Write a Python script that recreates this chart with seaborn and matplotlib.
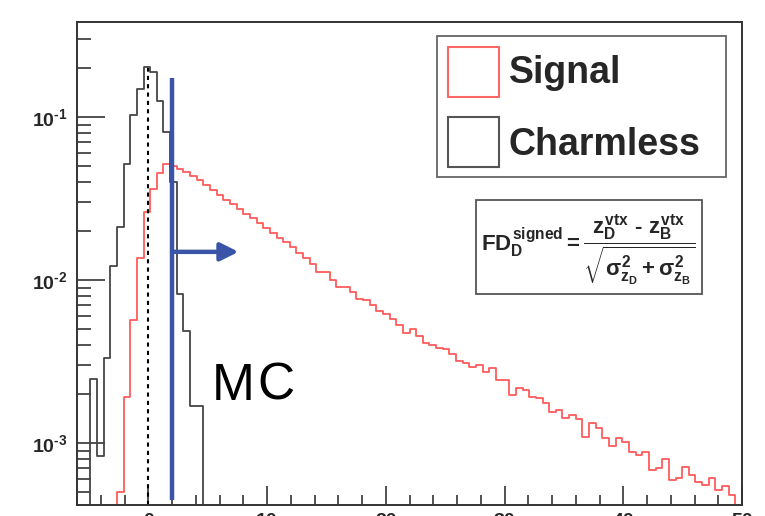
import numpy as np
import pandas as pd
import matplotlib
matplotlib.use('Agg')
import matplotlib.pyplot as plt
import seaborn as sns
from matplotlib.patches import Rectangle
from matplotlib.ticker import FixedLocator, FuncFormatter, LogLocator, MultipleLocator

sns.set_theme(style="ticks")
plt.rcParams['font.family'] = ['Liberation Sans', 'DejaVu Sans']
plt.rcParams['mathtext.fontset'] = 'custom'
plt.rcParams['mathtext.rm'] = 'Liberation Sans:bold'
plt.rcParams['mathtext.it'] = 'Liberation Sans:bold'
plt.rcParams['mathtext.bf'] = 'Liberation Sans:bold'

# 100 bins from -6 to 50 (FD signed)
bin_lo, bin_hi, n_bins = -6, 50, 100

signal = [0, 0, 0, 0, 0, 0, 5.0e-4, 1.91e-3, 5.69e-3, 1.36e-2,
          2.61e-2, 3.61e-2, 4.53e-2, 5.15e-2, 5.0e-2, 4.80e-2, 4.60e-2, 4.35e-2, 4.10e-2, 3.83e-2,
          3.57e-2, 3.32e-2, 3.10e-2, 2.92e-2, 2.73e-2, 2.54e-2, 2.40e-2, 2.24e-2, 2.08e-2, 1.94e-2,
          1.81e-2, 1.71e-2, 1.59e-2, 1.47e-2, 1.36e-2, 1.25e-2, 1.12e-2, 1.12e-2, 1.00e-2, 9.06e-3,
          9.06e-3, 8.44e-3, 7.64e-3, 7.53e-3, 7.03e-3, 6.46e-3, 6.18e-3, 5.77e-3, 5.30e-3, 4.73e-3,
          5.00e-3, 4.53e-3, 4.10e-3, 3.99e-3, 3.83e-3, 3.78e-3, 3.52e-3, 3.18e-3, 3.10e-3, 2.92e-3,
          3.01e-3, 2.73e-3, 2.89e-3, 2.44e-3, 2.44e-3, 1.97e-3, 2.17e-3, 2.11e-3, 1.91e-3, 1.89e-3,
          1.76e-3, 1.55e-3, 1.59e-3, 1.42e-3, 1.49e-3, 1.40e-3, 1.09e-3, 1.33e-3, 1.24e-3, 1.07e-3,
          9.6e-4, 1.07e-3, 1.01e-3, 8.8e-4, 8.4e-4, 8.8e-4, 6.8e-4, 7.0e-4, 8.0e-4, 5.9e-4,
          6.1e-4, 7.1e-4, 6.4e-4, 5.8e-4, 5.5e-4, 6.1e-4, 5.15e-4, 5.45e-4, 4.8e-4, 3.0e-4]

charmless = [0, 0, 2.47e-3, 8.3e-4, 3.32e-3, 1.22e-2, 2.11e-2, 5.15e-2, 0.103, 0.149,
             0.203, 0.189, 0.125, 0.081, 0.040, 8.2e-3, 4.9e-3, 1.69e-3, 1.69e-3] + [0] * 81

cut_value = 2.0
cut_top = 0.173
arrow_y = 0.0149
arrow_end = 7.6

binw = (bin_hi - bin_lo) / n_bins
centers = bin_lo + binw * (np.arange(n_bins) + 0.5)
df = pd.DataFrame({'fd': centers, 'signal': signal, 'charmless': charmless})

fig = plt.figure(figsize=(7.65, 5.16), dpi=100)
ax = fig.add_axes([77 / 765, 11 / 516, 665 / 765, 483 / 516])

sns.histplot(data=df, x='fd', weights='signal', binwidth=binw, binrange=(bin_lo, bin_hi),
             element="step", fill=False, color="#ff5a5a", linewidth=1.3, ax=ax)
sns.histplot(data=df, x='fd', weights='charmless', binwidth=binw, binrange=(bin_lo, bin_hi),
             element="step", fill=False, color="#454545", linewidth=1.3, ax=ax)

ax.set_yscale('log')
ax.set_xlim(-6, 50)
ax.set_ylim(4.17e-4, 0.383)
ax.set_xlabel('')
ax.set_ylabel('')

# zero line and cut
ax.vlines(0, 4.17e-4, 0.2, colors='black', linestyles=(0, (2, 2)), linewidth=1.5)
ax.vlines(cut_value, 4.5e-4, cut_top, colors='#3a55a8', linewidth=3.2)
ax.annotate('', xy=(arrow_end, arrow_y), xytext=(cut_value, arrow_y),
            arrowprops=dict(arrowstyle='-|>,head_length=0.9,head_width=0.45',
                            color='#3a55a8', lw=3.2, shrinkA=0, shrinkB=0))

# ROOT-like axes
for s in ax.spines.values():
    s.set_color('#333333')
    s.set_linewidth(1.4)
ax.xaxis.set_major_locator(MultipleLocator(10))
ax.xaxis.set_minor_locator(MultipleLocator(2))
ax.yaxis.set_major_locator(FixedLocator([1e-3, 1e-2, 1e-1]))
ax.yaxis.set_minor_locator(LogLocator(base=10, subs=np.arange(2, 10)))
ax.yaxis.set_major_formatter(FuncFormatter(
    lambda v, p: r'$\mathbf{10^{\text{-}%d}}$' % abs(int(round(np.log10(v))))))
ax.tick_params(axis='both', which='both', direction='in', color='#333333')
ax.tick_params(axis='y', which='major', length=20, width=1.2, pad=7, labelsize=14)
ax.tick_params(axis='y', which='minor', length=10, width=1.2)
ax.tick_params(axis='x', which='major', length=14, width=1.2, pad=6, labelsize=14)
ax.tick_params(axis='x', which='minor', length=7, width=1.2)
for lab in ax.get_xticklabels():
    lab.set_fontweight('bold')

# "M C" with a little extra letter spacing
ax.text(0.203, 0.2174, 'M', transform=ax.transAxes, fontsize=37, color='black',
        ha='left', va='baseline')
ax.text(0.2705, 0.2174, 'C', transform=ax.transAxes, fontsize=37, color='black',
        ha='left', va='baseline')

# legend box
fig.patches.append(Rectangle((437 / 765, 1 - 177 / 516), 289 / 765, 141 / 516,
                             transform=fig.transFigure, fill=False, edgecolor='#666666', lw=1.3))
fig.patches.append(Rectangle((448 / 765, 1 - 97 / 516), 51 / 765, 50 / 516,
                             transform=fig.transFigure, fill=False, edgecolor='#ff6666', lw=1.5))
fig.patches.append(Rectangle((448 / 765, 1 - 167 / 516), 51 / 765, 50 / 516,
                             transform=fig.transFigure, fill=False, edgecolor='#555555', lw=1.5))
fig.text(509 / 765, 1 - 83 / 516, 'Signal', fontsize=27, fontweight='bold', va='baseline')
fig.text(509 / 765, 1 - 155 / 516, 'Charmless', fontsize=27, fontweight='bold', va='baseline')

# formula box
fig.patches.append(Rectangle((476 / 765, 1 - 294 / 516), 226 / 765, 94 / 516,
                             transform=fig.transFigure, fill=False, edgecolor='#555555', lw=1.3))
fig.text(588 / 765, 1 - 250 / 516,
         r'$FD_D^{signed} = \dfrac{z_D^{vtx}\ \text{-}\ z_B^{vtx}}{\sqrt{\sigma^2_{z_D}+\sigma^2_{z_B}}}$',
         fontsize=16, ha='center', va='center')

fig.savefig('out.png', dpi=100)
